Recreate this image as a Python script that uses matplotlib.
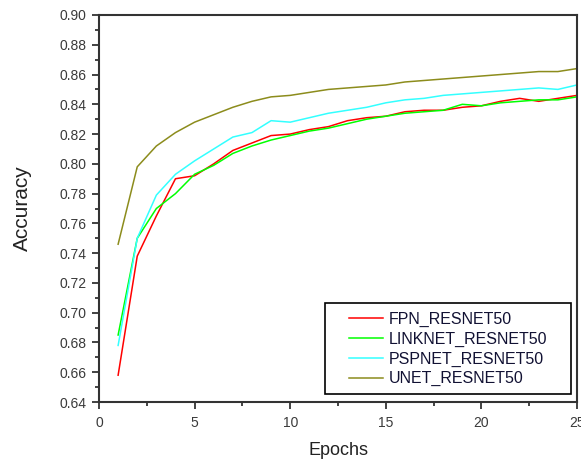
import matplotlib
matplotlib.use("Agg")
import matplotlib.pyplot as plt
from matplotlib.ticker import MultipleLocator
from matplotlib.patches import Rectangle

epochs = list(range(1, 26))
fpn = [0.658, 0.738, 0.765, 0.790, 0.792, 0.800, 0.809, 0.814, 0.819, 0.820,
       0.823, 0.825, 0.829, 0.831, 0.832, 0.835, 0.836, 0.836, 0.838, 0.839,
       0.842, 0.844, 0.842, 0.844, 0.846]
linknet = [0.685, 0.750, 0.770, 0.780, 0.793, 0.799, 0.807, 0.812, 0.816, 0.819,
           0.822, 0.824, 0.827, 0.830, 0.832, 0.834, 0.835, 0.836, 0.840, 0.839,
           0.841, 0.842, 0.843, 0.843, 0.845]
pspnet = [0.678, 0.750, 0.779, 0.793, 0.802, 0.810, 0.818, 0.821, 0.829, 0.828,
          0.831, 0.834, 0.836, 0.838, 0.841, 0.843, 0.844, 0.846, 0.847, 0.848,
          0.849, 0.850, 0.851, 0.850, 0.853]
unet = [0.746, 0.798, 0.812, 0.821, 0.828, 0.833, 0.838, 0.842, 0.845, 0.846,
        0.848, 0.850, 0.851, 0.852, 0.853, 0.855, 0.856, 0.857, 0.858, 0.859,
        0.860, 0.861, 0.862, 0.862, 0.864]
labels = ["FPN_RESNET50", "LINKNET_RESNET50", "PSPNET_RESNET50", "UNET_RESNET50"]
colors = ["#ff0000", "#00ff00", "#33ffff", "#8c8c1c"]

plt.rcParams['font.family'] = ['Liberation Sans', 'DejaVu Sans']

W, H = 581, 463
fig = plt.figure(figsize=(W/100, H/100), dpi=100)
L, R, T, B = 99, 577, 15, 402
ax = fig.add_axes([L/W, 1 - B/H, (R-L)/W, (B-T)/H])

for ys, lab, c in zip([fpn, linknet, pspnet, unet], labels, colors):
    ax.plot(epochs, ys, color=c, lw=1.1, label=lab)

ax.set_xlim(0, 25)
ax.set_ylim(0.64, 0.90)
ax.xaxis.set_major_locator(MultipleLocator(5))
ax.xaxis.set_minor_locator(MultipleLocator(2.5))
ax.yaxis.set_major_locator(MultipleLocator(0.02))
ax.yaxis.set_minor_locator(MultipleLocator(0.01))
ax.yaxis.set_major_formatter(plt.FormatStrFormatter('%.2f'))
ax.tick_params(which='both', direction='out', top=False, right=False,
               color='#222222', labelcolor='#3a3a3a', labelsize=10, width=1.2)
ax.tick_params(which='major', length=5)
ax.tick_params(which='minor', length=3)
ax.tick_params(axis='x', which='major', pad=5)
ax.tick_params(axis='y', which='major', pad=4)
for s in ax.spines.values():
    s.set_linewidth(1.5)
    s.set_color('#333333')

ax.set_xlabel("Epochs", fontsize=13, labelpad=9, color='#222222')
ax.set_ylabel("Accuracy", fontsize=15, labelpad=20, color='#222222')

# legend frame
def axx(px):
    return (px - L) / (R - L)
def axy(py):
    return (B - py) / (B - T)
ax.add_patch(Rectangle((axx(325), axy(394)), axx(571) - axx(325), axy(303) - axy(394),
                       transform=ax.transAxes, fill=False, edgecolor='black',
                       lw=1.2, zorder=5))
leg = ax.legend(loc='upper left', bbox_to_anchor=(axx(349), axy(312)),
                prop={'size': 11.5},
                frameon=False, handlelength=2.1, handletextpad=0.37,
                borderpad=0, labelspacing=0.29, borderaxespad=0)
for t in leg.get_texts():
    t.set_color('#111133')

fig.savefig("out.png", dpi=100)
